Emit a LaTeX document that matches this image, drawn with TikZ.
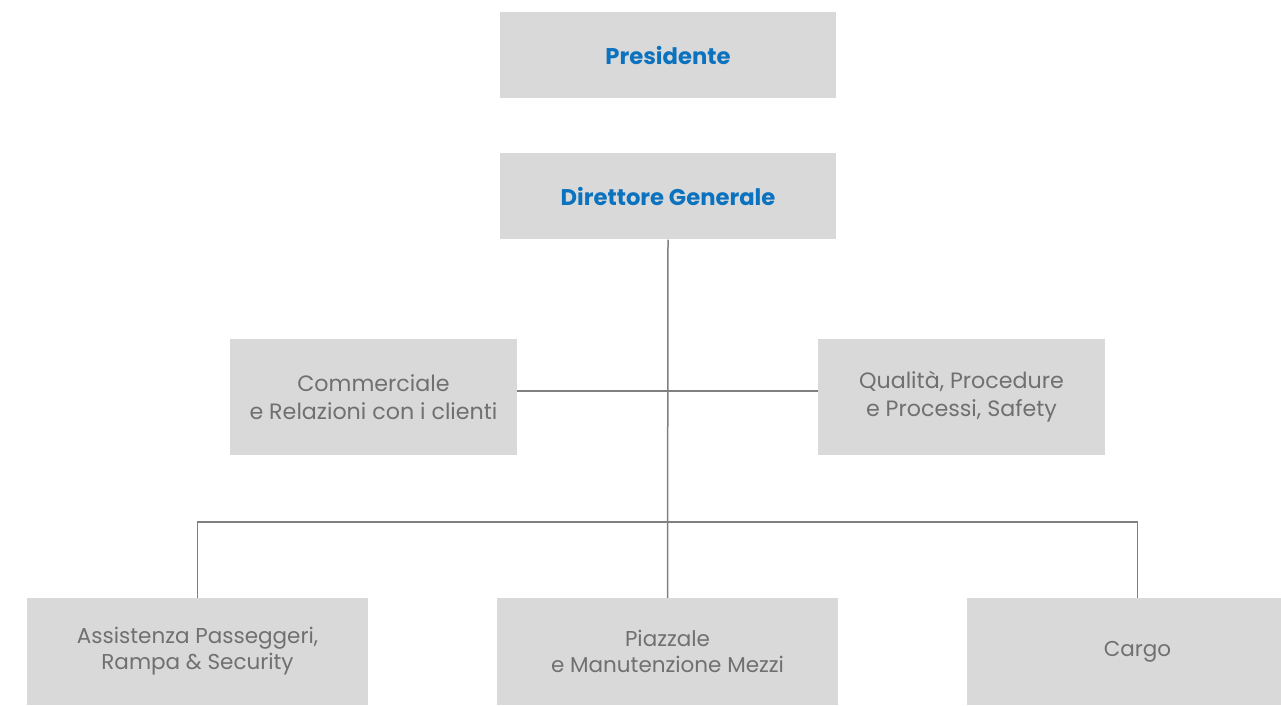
\documentclass[tikz,border=0pt]{standalone}
\usepackage{fontspec}
\setmainfont{Poppins}
\usepackage{tikz}
\usetikzlibrary{positioning}
\definecolor{boxgray}{HTML}{D9D9D9}
\definecolor{headblue}{HTML}{0A72BF}
\definecolor{textgray}{HTML}{707070}
\definecolor{linegray}{HTML}{808080}
\tikzset{HeadBox/.style={%
    shape=rectangle,%
    fill=boxgray,%
    minimum width=336pt,%
    minimum height=86pt,%
    inner sep=0pt,%
    align=center,%
    text=headblue,%
    font=\fontsize{22.7}{28}\selectfont\bfseries,%
}}
\tikzset{UnitBox/.style={%
    shape=rectangle,%
    fill=boxgray,%
    minimum width=287pt,%
    minimum height=116pt,%
    inner sep=0pt,%
    align=center,%
    text=textgray,%
    font=\fontsize{22.2}{28}\selectfont,%
}}
\tikzset{DeptBox/.style={%
    shape=rectangle,%
    fill=boxgray,%
    minimum width=341pt,%
    minimum height=107pt,%
    inner sep=0pt,%
    align=center,%
    text=textgray,%
    font=\fontsize{21.5}{26}\selectfont,%
}}
\tikzset{LinkEdge/.style={%
    draw=linegray,%
    line width=1.5pt,%
}}

\begin{document}
\begin{tikzpicture}[x=1pt, y=-1pt]
    \useasboundingbox (0,0) rectangle (1281,705);
    \node[HeadBox] (pres) at (668,55) {Presidente};
    \node[HeadBox, below=55pt of pres] (dg) {Direttore Generale};
    \node[UnitBox] (comm) at (373.5,397) {Commerciale\\e Relazioni con i clienti};
    \node[UnitBox] (qual) at (961.5,397) {Qualità, Procedure\\e Processi, Safety};
    \node[DeptBox] (assist) at (197.5,651.5) {Assistenza Passeggeri,\\Rampa \& Security};
    \node[DeptBox] (piazz) at (667.5,651.5) {Piazzale\\e Manutenzione Mezzi};
    \node[DeptBox] (cargo) at (1137.5,651.5) {Cargo};

    \coordinate (hub) at (dg.south |- 0,522);
    \draw[LinkEdge] (dg.south) -- (piazz.north);
    \draw[LinkEdge] ([yshift=6pt]comm.east) -- ([yshift=6pt]qual.west);
    \draw[LinkEdge] (assist.north) |- (hub) -| (cargo.north);
\end{tikzpicture}
\end{document}
